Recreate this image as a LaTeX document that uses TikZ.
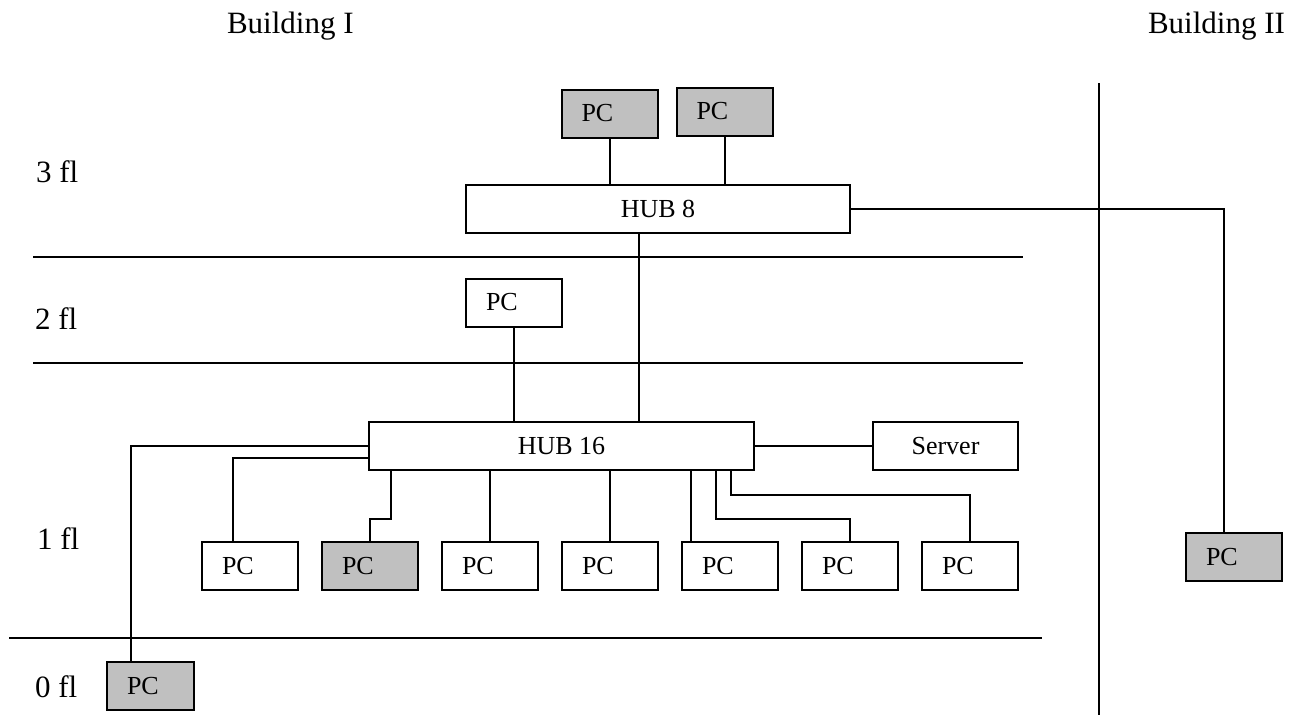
\documentclass[tikz,border=0pt]{standalone}
\usepackage{fontspec}
\setmainfont{Liberation Serif}
\definecolor{pcgray}{RGB}{192,192,192}
\begin{document}
\begin{tikzpicture}[x=1pt,y=-1pt,line width=2pt,
  lbl/.style={anchor=base west, inner sep=0pt, font=\fontsize{31}{36}\selectfont},
  box/.style={draw, inner sep=0pt, minimum height=48pt, font=\fontsize{26}{30}\selectfont},
  pcbox/.style={box, inner xsep=20pt, text width=56pt, align=left},
  grey/.style={fill=pcgray}]
\useasboundingbox (0,0) rectangle (1296,715);
\node[lbl] (bI) at (226,33) {Building I};
\node[lbl] (bII) at (1147,33) {Building II};
\node[lbl] (f3) at (35,182) {3 fl};
\node[lbl] (f2) at (34,329) {2 fl};
\node[lbl] (f1) at (36,549) {1 fl};
\node[lbl] (f0) at (34,697) {0 fl};
\draw (33,257) -- (1023,257);
\draw (33,363) -- (1023,363);
\draw (9,638) -- (1042,638);
\draw (1099,83) -- (1099,715);
\node[pcbox, grey] (pcTopA) at (609.5,113.5) {PC};
\node[pcbox, grey] (pcTopB) at (724.5,111.5) {PC};
\node[box, minimum width=384pt] (hubTop) at (658,208.5) {HUB 8};
\node[pcbox] (pcSecond) at (514,302.5) {PC};
\node[box, minimum width=385pt] (hubMain) at (561.5,446) {HUB 16};
\node[box, minimum width=145pt] (server) at (945.5,446) {Server};
\node[pcbox] (pcA) at (250,566) {PC};
\node[pcbox, grey] (pcB) at (370,566) {PC};
\node[pcbox] (pcC) at (490,566) {PC};
\node[pcbox] (pcD) at (610,566) {PC};
\node[pcbox] (pcE) at (730,566) {PC};
\node[pcbox] (pcF) at (850,566) {PC};
\node[pcbox] (pcG) at (970,566) {PC};
\node[pcbox, grey, text width=47pt] (pcGround) at (150.5,686) {PC};
\node[pcbox, grey] (pcRemote) at (1234,557) {PC};
\draw (pcTopA.south) -- (pcTopA.south |- hubTop.north);
\draw (pcTopB.south) -- (pcTopB.south |- hubTop.north);
\draw (hubTop.east) -| ([xshift=-10pt]pcRemote.north);
\draw ([xshift=-19pt]hubTop.south) -- ([xshift=-19pt]hubTop.south |- hubMain.north);
\draw (pcSecond.south) -- (pcSecond.south |- hubMain.north);
\draw (hubMain.east) -- (server.west);
\draw (hubMain.west) -| ([xshift=-20pt]pcGround.north);
\draw ([yshift=-12pt]hubMain.west) -| ([xshift=-17pt]pcA.north);
\draw ([xshift=23pt]hubMain.south west) -- ++(0,48) -| (pcB.north);
\draw (pcC.north) -- (pcC.north |- hubMain.south);
\draw (pcD.north) -- (pcD.north |- hubMain.south);
\draw ([xshift=-39pt]pcE.north) -- ([xshift=-39pt]pcE.north |- hubMain.south);
\draw ([xshift=-39pt]hubMain.south east) -- ++(0,48) -| (pcF.north);
\draw ([xshift=-24pt]hubMain.south east) -- ++(0,24) -| (pcG.north);
\end{tikzpicture}
\end{document}
